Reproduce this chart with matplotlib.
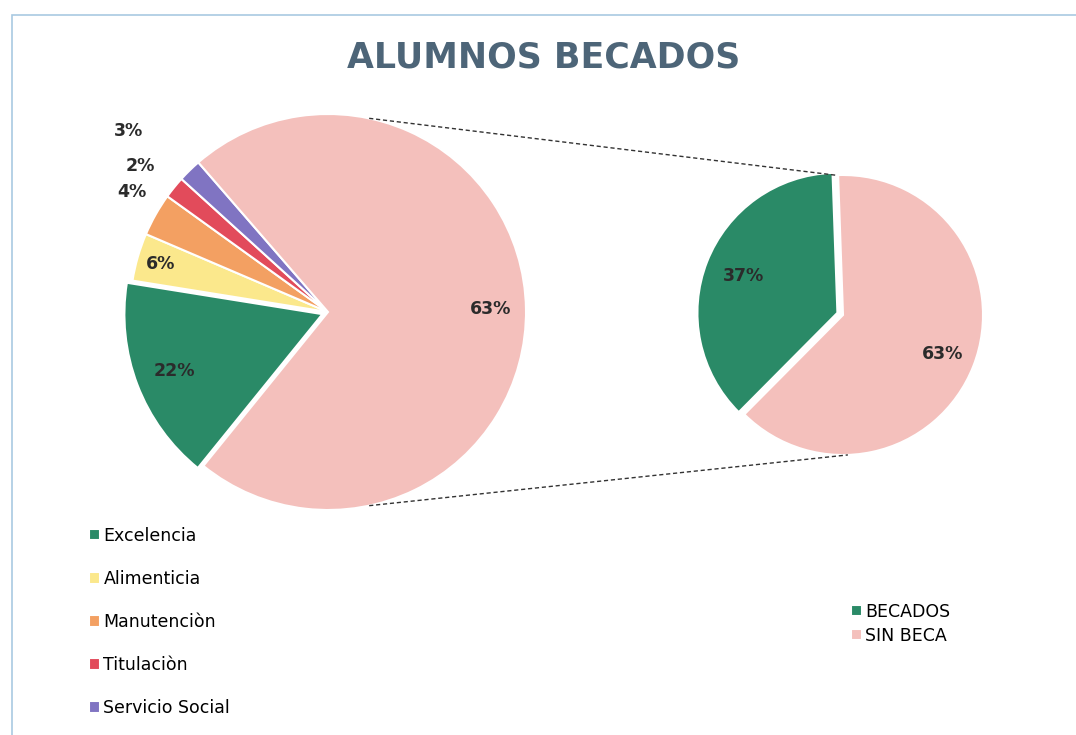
import numpy as np
import matplotlib
matplotlib.use('Agg')
import matplotlib.pyplot as plt
from matplotlib.patches import Rectangle

plt.rcParams['font.family'] = ['DejaVu Sans']

# datos (tamano visible de cada sector y etiqueta impresa)
tipos = ['Excelencia', 'Alimenticia', 'Manutenciòn', 'Titulaciòn', 'Servicio Social', 'SIN BECA']
tamanos = [16.7, 3.9, 3.5, 1.8, 1.9, 72.2]
etiquetas = ['22%', '6%', '4%', '2%', '3%', '63%']

grupos = ['BECADOS', 'SIN BECA']
grupo_valores = [37, 63]
grupo_etiquetas = ['37%', '63%']

colores = ['#2a8a67', '#fbe88c', '#f3a062', '#e24b5b', '#8074c2', '#f4c0bc']
colores_grupo = ['#2a8a67', '#f4c0bc']

fig = plt.figure(figsize=(10.76, 7.35), dpi=100)
ax = fig.add_axes([0, 0, 1, 1])

# pastel izquierdo
c1 = (328, 423)
r1 = 198
w1, _ = ax.pie(tamanos, colors=colores, startangle=231, counterclock=False,
               center=c1, radius=r1, explode=[6, 0, 0, 0, 0, 0],
               wedgeprops=dict(edgecolor='white', linewidth=1.5), frame=True)
dist1 = [0.83, 0.88, 1.16, 1.2, 1.36, 0.82]
giro1 = [0, 0, -2, 1, 3.5, 0]
for w, t, d, g in zip(w1, etiquetas, dist1, giro1):
    ang = np.deg2rad((w.theta1 + w.theta2) / 2 + g)
    ax.text(c1[0] + d * r1 * np.cos(ang), c1[1] + d * r1 * np.sin(ang), t,
            ha='center', va='center', fontsize=12.5, fontweight='bold', color='#2b2b2b')

# pastel derecho
c2 = (843, 420)
r2 = 140
w2, _ = ax.pie(grupo_valores, colors=colores_grupo, startangle=92, counterclock=True,
               center=c2, radius=r2, explode=[6, 0],
               wedgeprops=dict(edgecolor='white', linewidth=1.5), frame=True)
for w, t in zip(w2, grupo_etiquetas):
    ang = np.deg2rad((w.theta1 + w.theta2) / 2)
    ax.text(c2[0] + 0.76 * r2 * np.cos(ang), c2[1] + 0.76 * r2 * np.sin(ang), t,
            ha='center', va='center', fontsize=12.5, fontweight='bold', color='#2b2b2b')

# lineas de conexion
for a1, a2 in [(78, 93), (-78, -88)]:
    p1 = (c1[0] + r1 * np.cos(np.deg2rad(a1)), c1[1] + r1 * np.sin(np.deg2rad(a1)))
    p2 = (c2[0] + r2 * np.cos(np.deg2rad(a2)), c2[1] + r2 * np.sin(np.deg2rad(a2)))
    ax.plot([p1[0], p2[0]], [p1[1], p2[1]], ls=(0, (3, 2)), lw=1, color='#333333')

ax.set_xlim(0, 1076)
ax.set_ylim(0, 735)
ax.axis('off')

fig.text(0.505, 1 - 57 / 735, 'ALUMNOS BECADOS', ha='center', va='center',
         fontsize=25, fontweight='bold', color='#4d6578')

fig.legend(w1[:5], tipos[:5], loc='upper left', bbox_to_anchor=(80 / 1076, 1 - 518 / 735),
           frameon=False, fontsize=12.5, labelspacing=1.45, handlelength=0.65,
           handleheight=0.65, handletextpad=0.2, borderpad=0)
fig.legend(w2, grupos, loc='upper left', bbox_to_anchor=(842 / 1076, 1 - 594 / 735),
           frameon=False, fontsize=12.5, labelspacing=0.35, handlelength=0.65,
           handleheight=0.65, handletextpad=0.2, borderpad=0)

fig.patches.append(Rectangle((12 / 1076, -0.1), 1.2, 1 - 15 / 735 + 0.1, transform=fig.transFigure,
                             fill=False, edgecolor='#a9c9e2', linewidth=1.2))

fig.savefig('out.png', dpi=100)
